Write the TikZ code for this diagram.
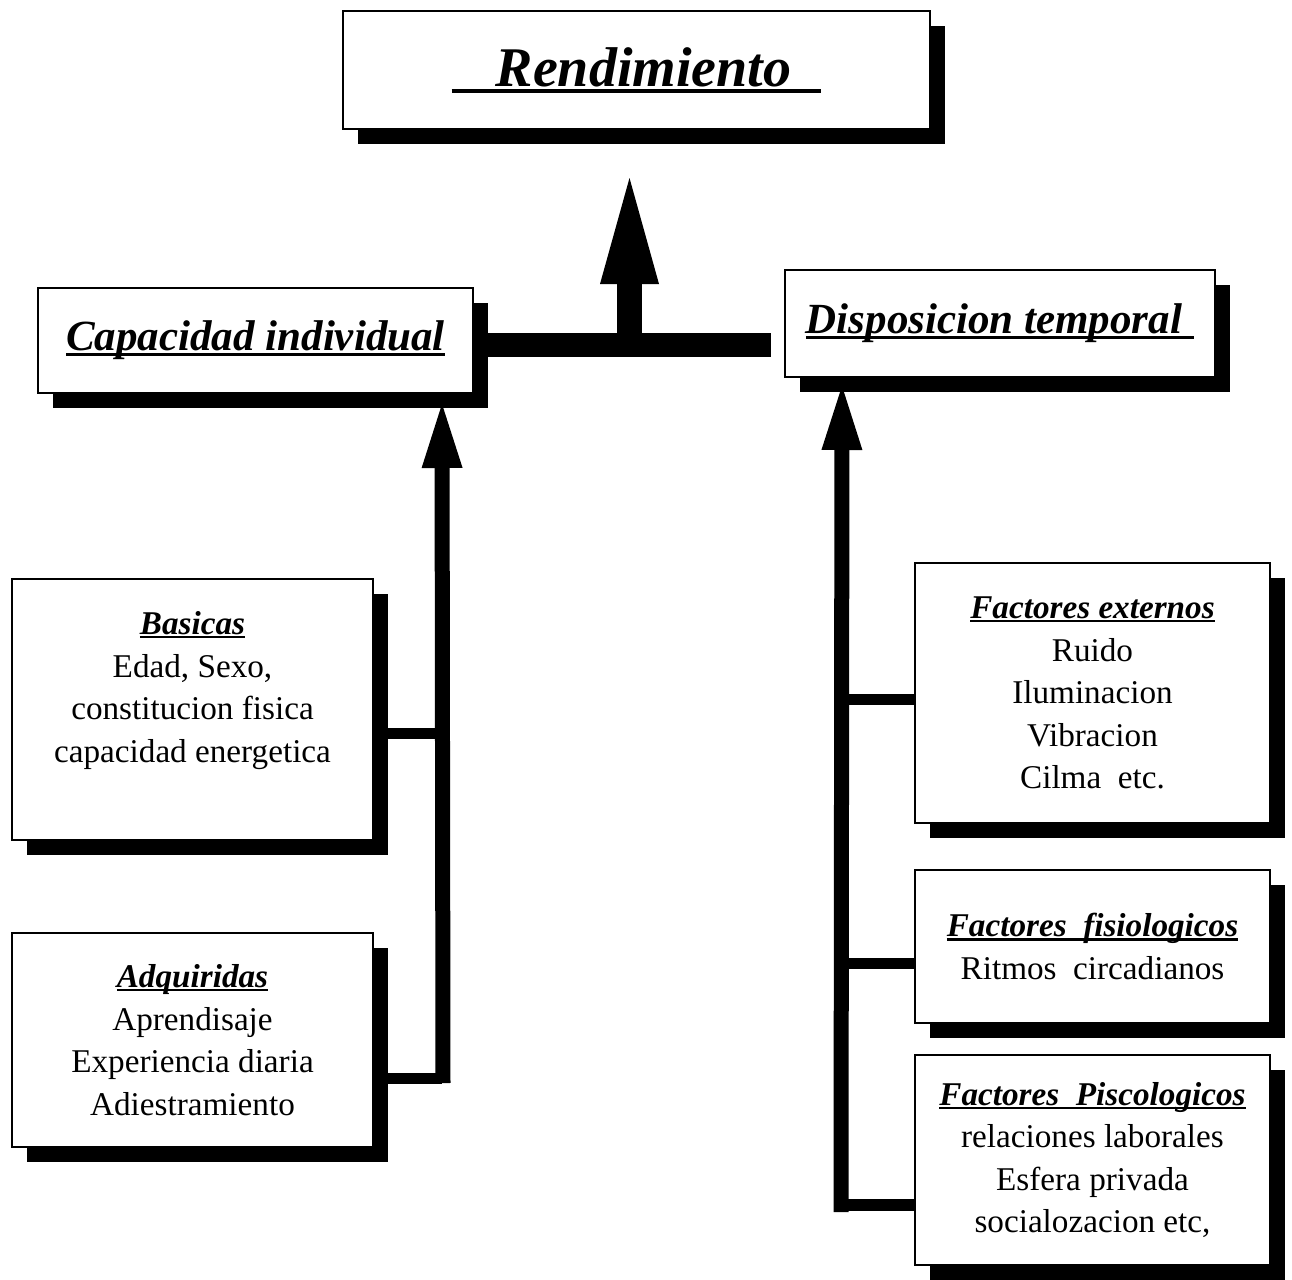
\documentclass[tikz,border=0pt]{standalone}
\usepackage{fontspec}
\setmainfont{Liberation Serif}
\usetikzlibrary{arrows.meta,calc,shadows}
\newcommand\ulx[1]{\setbox0\hbox{#1}\rlap{\rule[-0.12em]{\wd0}{0.07em}}\box0}
\newcommand\titfont{\fontsize{21.5}{26}\selectfont\bfseries\itshape}
\newcommand\subt[1]{\textbf{\textit{\ulx{#1}}}}
\begin{document}
\begin{tikzpicture}[x=0.5pt,y=-0.5pt,
  box/.style={draw, line width=1pt, fill=white, inner sep=0pt,
    drop shadow={shadow xshift=7.5pt, shadow yshift=-7.5pt, fill=black, opacity=1}},
  body/.style={align=center, font=\fontsize{16.6}{21.3}\selectfont},
  bar/.style={line width=12pt},
  bigarrow/.style={line width=12.5pt, -{Triangle[width=29.5pt,length=53pt,line width=0pt]}},
  shaft/.style={line width=7.5pt, -{Triangle[width=20.5pt,length=32pt,line width=0pt]}},
  branch/.style={line width=5.5pt}]
\fill[white] (0,0) rectangle (1292,1280);
\useasboundingbox (0,0) rectangle (1292,1280);

% boxes
\node[box, minimum width=293.5pt, minimum height=59pt] (R) at (636.5,70)
  {\fontsize{28}{32}\selectfont\bfseries\itshape\ulx{\hspace*{22pt}Rendimiento\hspace*{15pt}}};
\node[box, minimum width=217.5pt, minimum height=52.5pt] (C) at (255.5,340.5)
  {\titfont\ulx{Capacidad individual}};
\node[box, minimum width=215pt, minimum height=53.5pt] (D) at (1000,323.5)
  {\titfont\ulx{Disposicion temporal\hspace*{6pt}}};
\node[box, body, minimum width=180.5pt, minimum height=130.5pt] (B) at (192.5,709.5)
  {\subt{Basicas}\\ Edad, Sexo,\\ constitucion fisica\\ capacidad energetica\\[-5pt] \strut};
\node[box, body, minimum width=180.5pt, minimum height=107pt] (A) at (192.5,1040)
  {\subt{Adquiridas}\\ Aprendisaje\\ Experiencia diaria\\ Adiestramiento};
\node[box, body, minimum width=177.5pt, minimum height=130pt] (FE) at (1092.5,693)
  {\subt{Factores externos}\\ Ruido\\ Iluminacion\\ Vibracion\\ Cilma\ \ etc.};
\node[box, body, minimum width=177.5pt, minimum height=76.5pt] (FF) at (1092.5,946.5)
  {\subt{Factores\ \ fisiologicos}\\ Ritmos\ \ circadianos};
\node[box, body, minimum width=177.5pt, minimum height=105pt] (FP) at (1092.5,1160)
  {\subt{Factores\ \ Piscologicos}\\ relaciones laborales\\ Esfera privada\\ socialozacion etc,};

% connector points
\coordinate (barL) at ($(C.east)+(5,4.5)$);
\coordinate (barR) at ($(D.west)+(-13,21.5)$);
\coordinate (upBase) at ($(R.south)+(-7,216)$);
\coordinate (upTip) at ($(R.south)+(-7,48)$);
\coordinate (Ltip) at ($(C.south)+(186.5,10)$);
\coordinate (Lbot) at ($(A.east)+(69,43)$);
\coordinate (Bb) at ($(B.east)+(0,23.5)$);
\coordinate (Ab) at ($(A.east)+(0,38)$);
\coordinate (Rtip) at ($(D.south)+(-158,8)$);
\coordinate (Rbot) at ($(FP.west)+(-73,52)$);
\coordinate (FEb) at ($(FE.west)+(0,6)$);
\coordinate (FFb) at ($(FF.west)+(0,16.5)$);
\coordinate (FPb) at ($(FP.west)+(0,45)$);

% connectors
\draw[bar] (barL) -- (barR);
\draw[bigarrow] (upBase) -- (upTip);
\draw[shaft] (Lbot) -- (Ltip);
\draw[branch] (Bb) -- (Bb -| Ltip);
\draw[branch] (Ab) -- (Ab -| Ltip);
\draw[shaft] (Rbot) -- (Rtip);
\draw[branch] (FEb) -- (FEb -| Rtip);
\draw[branch] (FFb) -- (FFb -| Rtip);
\draw[line width=6pt] (FPb) -- (FPb -| Rtip);
\end{tikzpicture}
\end{document}
